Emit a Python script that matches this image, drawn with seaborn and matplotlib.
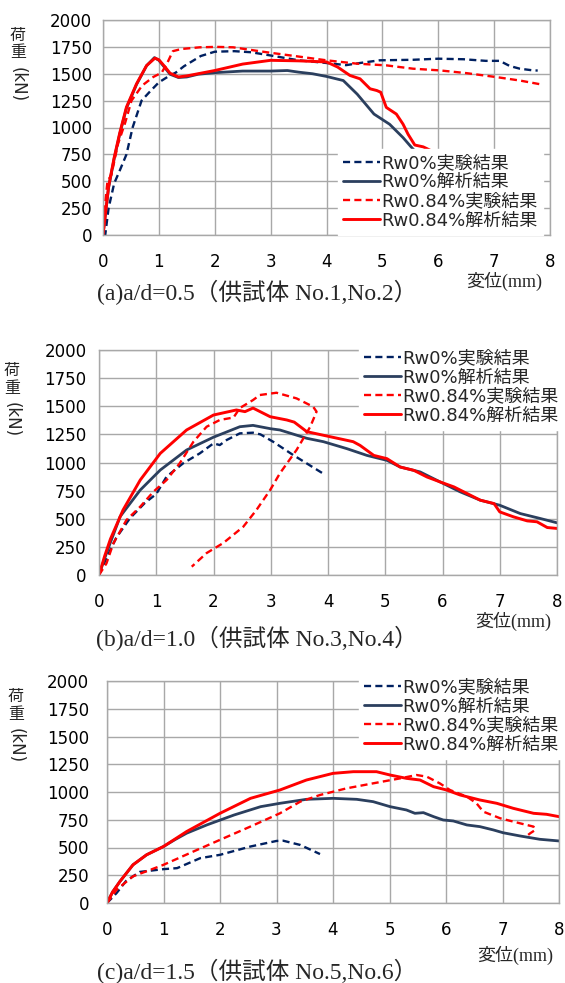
import matplotlib
matplotlib.use("Agg")
import matplotlib.pyplot as plt
import seaborn as sns

# legend labels (same order in every panel)
LABELS = ["Rw0%実験結果", "Rw0%解析結果", "Rw0.84%実験結果", "Rw0.84%解析結果"]
CAPTIONS = [
    "(a)a/d=0.5（供試体 No.1,No.2）",
    "(b)a/d=1.0（供試体 No.3,No.4）",
    "(c)a/d=1.5（供試体 No.5,No.6）",
]
X_TICKS = [0, 1, 2, 3, 4, 5, 6, 7, 8]
Y_TICKS = [0, 250, 500, 750, 1000, 1250, 1500, 1750, 2000]

# (a) a/d = 0.5
A_EXP0_X = [0, 0.04, 0.1, 0.2, 0.3, 0.42, 0.53, 0.69, 0.85, 1.0, 1.2, 1.3, 1.45, 1.75, 2.0, 2.35,
            2.65, 3.0, 3.5, 4.0, 4.35, 4.6, 4.95, 5.55, 6.0, 6.45, 6.85, 7.1, 7.28, 7.46, 7.7, 7.78]
A_EXP0_Y = [0, 0, 250, 480, 600, 750, 1000, 1250, 1340, 1420, 1485, 1510, 1570, 1665, 1705, 1710,
            1700, 1670, 1625, 1600, 1580, 1600, 1625, 1630, 1640, 1635, 1620, 1620, 1572, 1547, 1531, 1530]
A_ANA0_X = [0, 0.1, 0.2, 0.3, 0.42, 0.6, 0.78, 0.92, 1.0, 1.1, 1.2, 1.35, 1.5, 1.7, 2.0, 2.5, 3.0,
            3.3, 3.5, 3.75, 4.0, 4.3, 4.55, 4.85, 5.13, 5.37, 5.5, 5.6]
A_ANA0_Y = [0, 440, 710, 940, 1180, 1400, 1575, 1650, 1625, 1560, 1495, 1465, 1470, 1495, 1510, 1525,
            1525, 1530, 1515, 1500, 1475, 1437, 1310, 1125, 1030, 906, 828, 770]
A_EXP84_X = [0, 0.03, 0.08, 0.15, 0.27, 0.4, 0.51, 0.7, 0.9, 1.05, 1.15, 1.25, 1.4, 1.73, 2.03, 2.33,
             2.93, 3.5, 4.0, 4.54, 5.07, 5.55, 6.03, 6.5, 7.04, 7.46, 7.88]
A_EXP84_Y = [0, 250, 500, 560, 850, 1050, 1250, 1390, 1470, 1510, 1600, 1710, 1730, 1746, 1750, 1746,
             1700, 1660, 1625, 1594, 1578, 1547, 1531, 1506, 1469, 1437, 1397]
A_ANA84_X = [0, 0.1, 0.2, 0.3, 0.42, 0.6, 0.78, 0.93, 1.0, 1.1, 1.2, 1.35, 1.5, 1.7, 2.0, 2.5, 3.0,
             3.5, 4.0, 4.2, 4.42, 4.6, 4.78, 4.9, 4.97, 5.07, 5.25, 5.37, 5.46, 5.58, 5.73, 5.85]
A_ANA84_Y = [0, 450, 720, 950, 1190, 1406, 1576, 1645, 1630, 1570, 1505, 1470, 1480, 1500, 1530, 1590,
             1625, 1620, 1610, 1562, 1484, 1453, 1360, 1344, 1328, 1187, 1125, 1031, 937, 837, 820, 790]

# (b) a/d = 1.0
B_EXP0_X = [0, 0.13, 0.3, 0.54, 0.8, 1.0, 1.18, 1.47, 1.76, 2.0, 2.11, 2.23, 2.46, 2.69, 2.82, 3.04,
            3.39, 3.92]
B_EXP0_Y = [0, 150, 330, 504, 640, 720, 874, 993, 1081, 1170, 1155, 1200, 1259, 1265, 1250, 1185,
            1067, 900]
B_ANA0_X = [0, 0.1, 0.2, 0.37, 0.72, 1.07, 1.53, 2.0, 2.46, 2.69, 3.0, 3.16, 3.63, 3.92, 4.33, 4.68,
            5.03, 5.26, 5.61, 5.96, 6.31, 6.66, 7.0, 7.36, 7.71, 8.0]
B_ANA0_Y = [0, 150, 290, 520, 755, 933, 1111, 1225, 1318, 1330, 1300, 1289, 1215, 1185, 1123, 1063,
            1019, 960, 916, 827, 739, 665, 620, 546, 502, 464]
B_EXP84_X = [0, 0.13, 0.25, 0.48, 0.72, 0.95, 1.18, 1.41, 1.65, 1.88, 2.11, 2.35, 2.46, 2.69, 2.81,
             3.1, 3.45, 3.74, 3.8, 3.69, 3.45, 3.16, 2.99, 2.75, 2.52, 2.17, 1.88, 1.62]
B_EXP84_Y = [0, 103, 280, 489, 607, 740, 844, 993, 1185, 1318, 1378, 1400, 1484, 1555, 1600, 1620,
             1570, 1496, 1452, 1318, 1111, 904, 756, 578, 429, 284, 195, 74]
B_ANA84_X = [0, 0.1, 0.2, 0.42, 0.72, 1.07, 1.53, 2.0, 2.4, 2.55, 2.69, 2.99, 3.28, 3.41, 3.63, 4.03,
             4.44, 4.56, 4.8, 5.03, 5.26, 5.5, 5.73, 5.96, 6.2, 6.43, 6.66, 6.9, 7.0, 7.24, 7.48, 7.65,
             7.83, 8.0]
B_ANA84_Y = [0, 170, 320, 578, 844, 1081, 1289, 1422, 1467, 1452, 1484, 1407, 1378, 1359, 1274, 1230,
             1185, 1152, 1063, 1034, 960, 930, 871, 827, 783, 724, 665, 635, 561, 517, 481, 473,
             422, 414]

# (c) a/d = 1.5
C_EXP0_X = [0, 0.17, 0.34, 0.58, 1.0, 1.24, 1.65, 2.0, 2.54, 3.0, 3.12, 3.42, 3.77]
C_EXP0_Y = [0, 90, 200, 280, 305, 314, 404, 434, 509, 559, 561, 523, 441]
C_ANA0_X = [0, 0.1, 0.23, 0.46, 0.7, 1.0, 1.2, 1.41, 1.77, 2.25, 2.72, 3.06, 3.53, 4.0, 4.42, 4.71,
            5.01, 5.3, 5.45, 5.6, 5.78, 5.95, 6.13, 6.37, 6.6, 6.84, 7.01, 7.31, 7.66, 8.0]
C_ANA0_Y = [0, 100, 195, 344, 434, 509, 570, 629, 704, 793, 868, 898, 934, 943, 934, 913,
            868, 838, 808, 814, 778, 748, 739, 703, 688, 658, 633, 604, 574, 559]
C_EXP84_X = [0, 0.17, 0.46, 1.0, 1.53, 2.0, 2.54, 3.06, 3.42, 3.77, 4.24, 4.71, 5.19, 5.48, 5.66,
             5.89, 6.07, 6.37, 6.54, 6.66, 6.96, 7.31, 7.55, 7.58, 7.49, 7.4]
C_EXP84_Y = [0, 120, 240, 344, 464, 569, 689, 808, 913, 973, 1033, 1078, 1123, 1153, 1138,
             1078, 1018, 958, 898, 823, 763, 718, 688, 658, 628, 592]
C_ANA84_X = [0, 0.1, 0.23, 0.46, 0.7, 1.0, 1.41, 2.0, 2.54, 3.06, 3.53, 4.0, 4.36, 4.77, 5.01, 5.3,
             5.54, 5.78, 6.01, 6.25, 6.6, 6.9, 7.19, 7.55, 7.78, 8.0]
C_ANA84_Y = [0, 100, 195, 344, 434, 509, 644, 808, 943, 1018, 1108, 1168, 1183, 1183, 1153, 1123,
             1108, 1048, 1018, 973, 928, 898, 853, 808, 799, 778]

NAVY_DASH = "#002060"
NAVY = "#2B3F5E"
RED = "#FF0000"
GRID = "#A8A8A8"
DASH = (0, (3, 1.8))

W, H = 565, 983


def px_box(left, top, right, bottom):
    """Axes rectangle from pixel edges."""
    return [left / W, 1 - bottom / H, (right - left) / W, (bottom - top) / H]


def draw_panel(fig, box, data, ytick_pad, legend_anchor, legend_loc, xlabel_xy, ylab):
    ax = fig.add_axes(box)
    styles = [
        (NAVY_DASH, DASH, 1.7),
        (NAVY, "-", 2.0),
        (RED, DASH, 1.7),
        (RED, "-", 2.1),
    ]
    for (x, y), (color, ls, lw) in zip(data, styles):
        sns.lineplot(x=x, y=y, ax=ax, color=color, linestyle=ls, linewidth=lw,
                     sort=False, estimator=None, legend=False)
    ax.set_xlim(0, 8)
    ax.set_ylim(0, 2000)
    ax.set_xticks(X_TICKS)
    ax.set_yticks(Y_TICKS)
    ax.grid(True, color=GRID, linewidth=1.0)
    for s in ax.spines.values():
        s.set_color(GRID)
        s.set_linewidth(1.0)
    ax.tick_params(axis="both", length=4, width=1.0, color=GRID, labelsize=12, labelcolor="black")
    ax.tick_params(axis="x", pad=9)
    ax.tick_params(axis="y", pad=ytick_pad)
    ax.set(xlabel="", ylabel="")

    leg = ax.legend(
        handles=ax.get_lines()[:4], labels=LABELS, loc=legend_loc,
        bbox_to_anchor=(legend_anchor[0] / W, 1 - legend_anchor[1] / H),
        bbox_transform=fig.transFigure, frameon=True, fancybox=False,
        facecolor="white", edgecolor="white", framealpha=1.0,
        borderpad=0.3, borderaxespad=0, handlelength=2.0, handletextpad=0.12,
        labelspacing=0.06, prop={"family": ["DejaVu Sans", "Noto Sans CJK JP"], "size": 13},
    )
    leg.set_zorder(10)

    fig.text(xlabel_xy[0] / W, 1 - xlabel_xy[1] / H, "変位(mm)", ha="center", va="center",
             fontsize=13, family=["Liberation Serif", "Noto Sans CJK JP"])
    lx, ly = ylab
    fig.text(lx / W, 1 - ly / H, "荷", ha="center", va="center", fontsize=11.5,
             family=["Noto Sans CJK JP"])
    fig.text(lx / W, 1 - (ly + 18) / H, "重", ha="center", va="center", fontsize=11.5,
             family=["Noto Sans CJK JP"])
    fig.text(lx / W, 1 - (ly + 50) / H, "(kN)", ha="center", va="center", fontsize=12,
             rotation=270, family=["DejaVu Sans"])
    return ax


def main():
    sns.set_theme(style="white")
    plt.rcParams["font.family"] = ["DejaVu Sans", "Noto Sans CJK JP"]
    fig = plt.figure(figsize=(W / 100, H / 100), dpi=100)
    fig.set_facecolor("white")

    panels = [
        (px_box(103, 20, 550, 235),
         [(A_EXP0_X, A_EXP0_Y), (A_ANA0_X, A_ANA0_Y), (A_EXP84_X, A_EXP84_Y), (A_ANA84_X, A_ANA84_Y)],
         4, (338, 235), "lower left", 292, (504, 281), (18, 35)),
        (px_box(99, 350, 557, 575),
         [(B_EXP0_X, B_EXP0_Y), (B_ANA0_X, B_ANA0_Y), (B_EXP84_X, B_EXP84_Y), (B_ANA84_X, B_ANA84_Y)],
         5, (359, 344), "upper left", 638, (513, 621), (12, 370)),
        (px_box(107, 681, 559, 903),
         [(C_EXP0_X, C_EXP0_Y), (C_ANA0_X, C_ANA0_Y), (C_EXP84_X, C_EXP84_Y), (C_ANA84_X, C_ANA84_Y)],
         9, (359, 673), "upper left", 971, (515, 955), (16, 696)),
    ]
    for (box, data, pad, anchor, loc, cap_y, xl, yl), caption in zip(panels, CAPTIONS):
        draw_panel(fig, box, data, pad, anchor, loc, xl, yl)
        fig.text(257 / W, 1 - cap_y / H, caption, ha="center", va="center", fontsize=17,
                 family=["Liberation Serif", "Noto Sans CJK JP"])

    fig.savefig("out.png", dpi=100)


if __name__ == "__main__":
    main()
